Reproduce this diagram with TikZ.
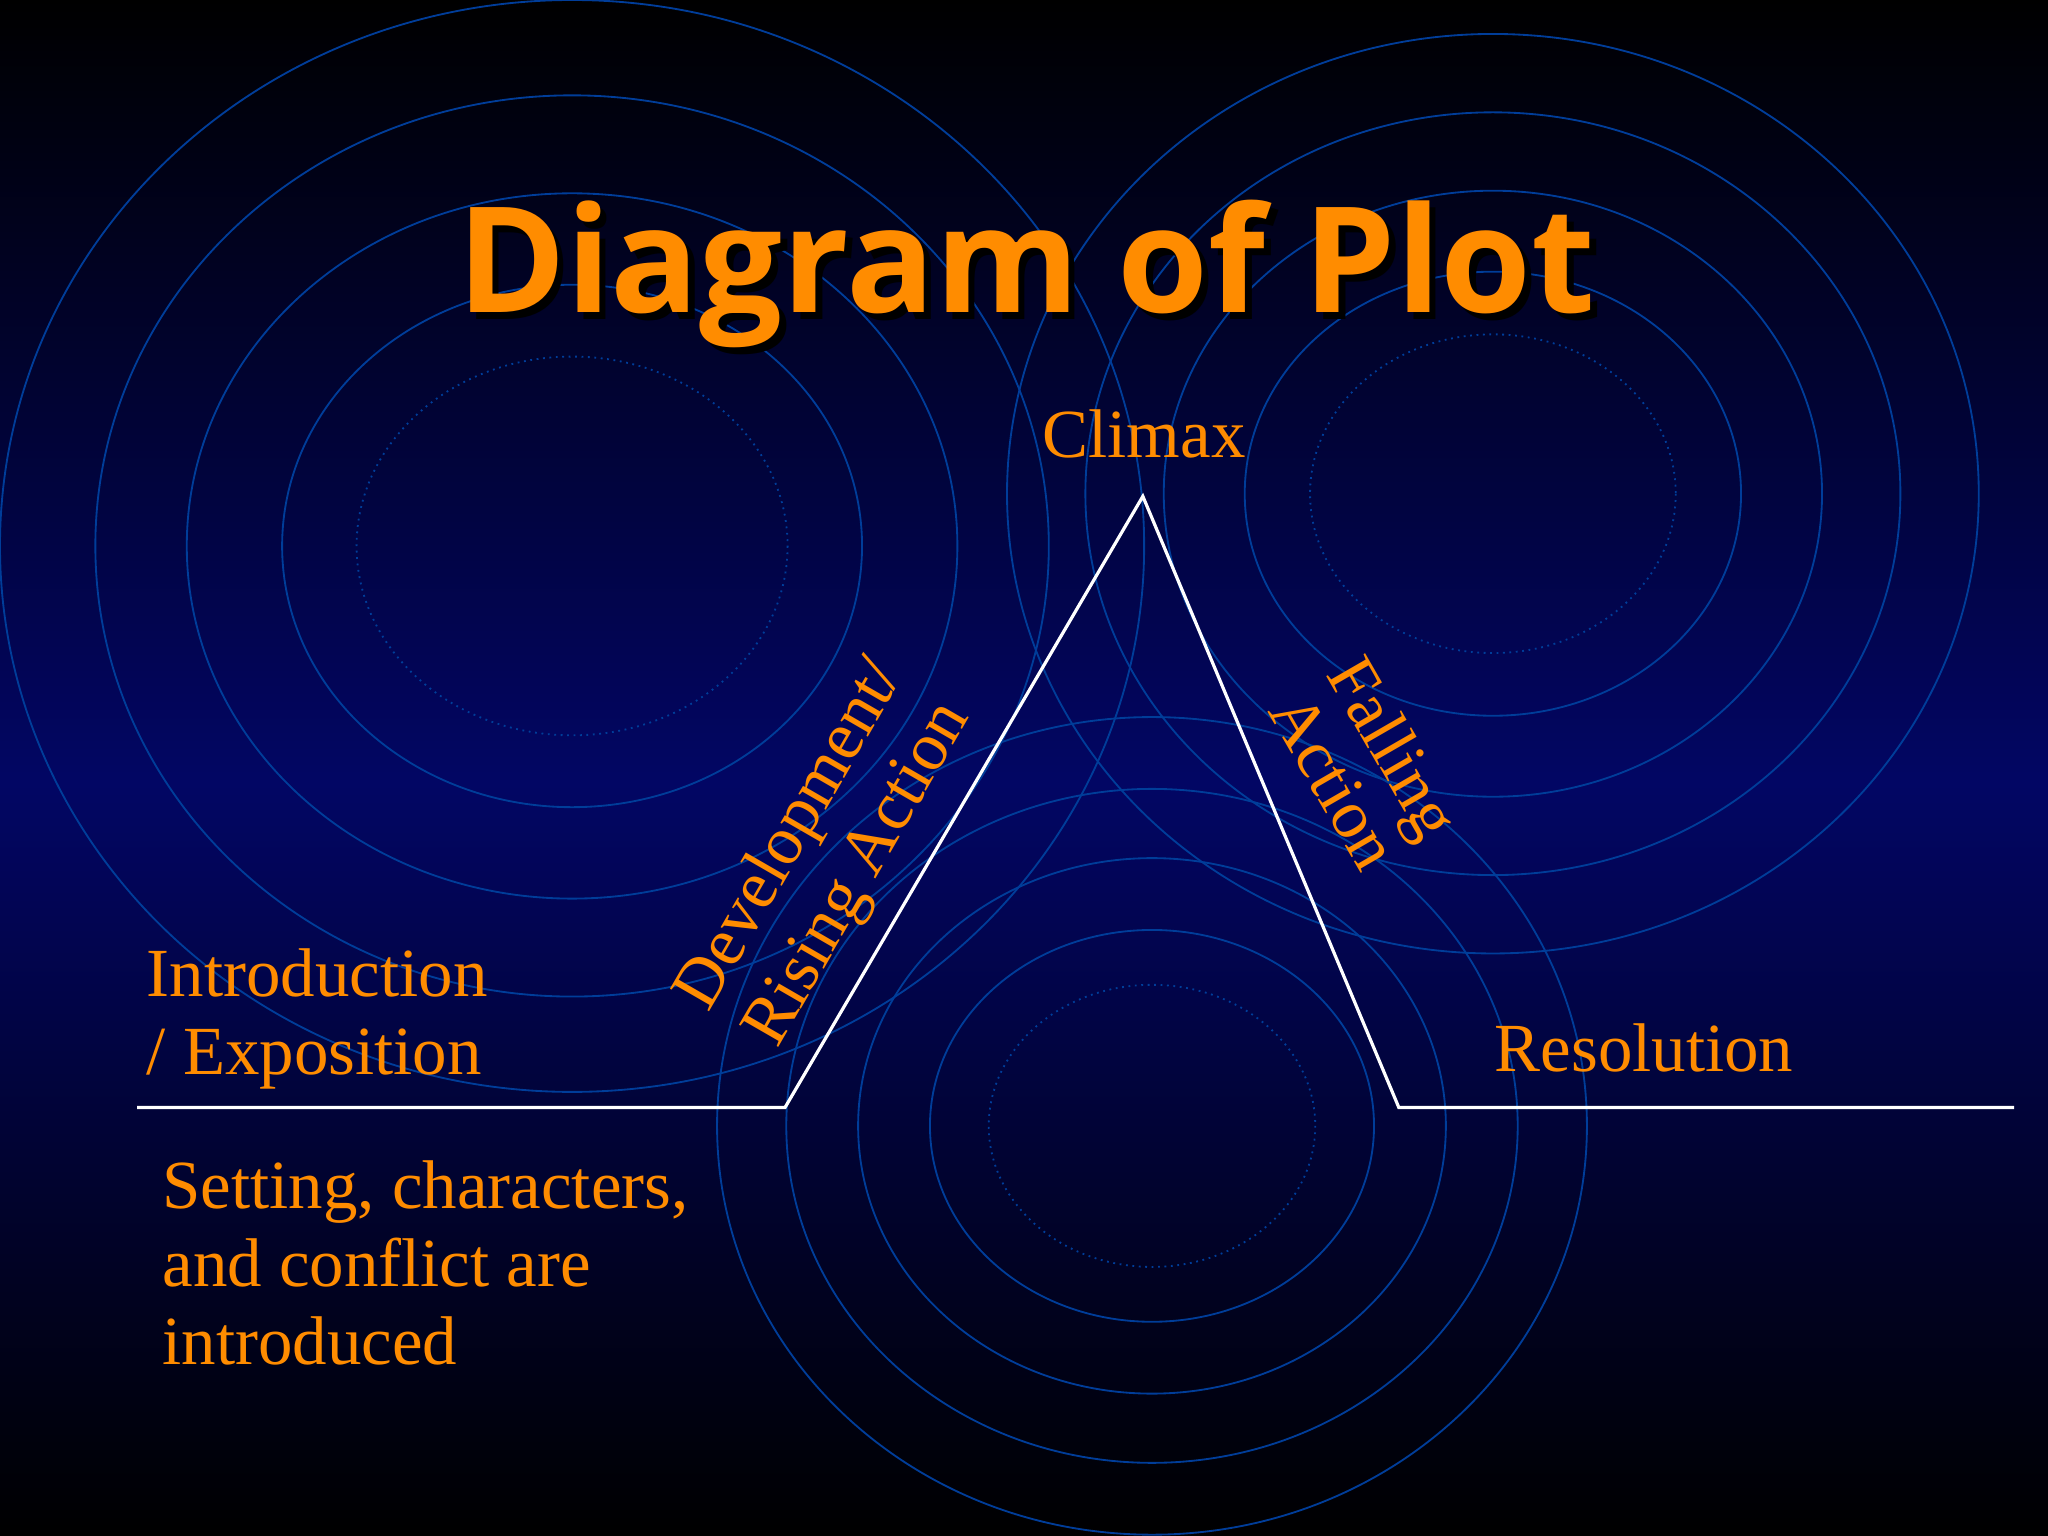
\documentclass[tikz,border=0pt]{standalone}
\usepackage{fontspec}
\setmainfont{Liberation Serif}
\newfontfamily\titlefont{Open Sans}
\begin{document}
\begin{tikzpicture}[x=0.01cm,y=-0.01cm,
  ring/.style={draw=blue!60!cyan!60!black,line width=0.4pt},
  dring/.style={ring,densely dotted},
  lbl/.style={text=orange!90!yellow,font=\fontsize{15}{17}\selectfont},
  plotline/.style={draw=white,line width=0.7pt}]
\definecolor{dkblue}{RGB}{2,6,100}
\useasboundingbox (0,0) rectangle (1568,1176);
\fill[top color=black,bottom color=dkblue] (0,0) rectangle (1568,600);
\fill[top color=dkblue,bottom color=black] (0,600) rectangle (1568,1176);
\begin{scope}
\clip (0,0) rectangle (1568,1176);
\draw[dring] (438,418) ellipse [x radius=165, y radius=145];
\foreach \rx/\ry in {222/200,295/270,365/345,438/418} \draw[ring] (438,418) ellipse [x radius=\rx, y radius=\ry];
\draw[dring] (1143,378) ellipse [x radius=140, y radius=122];
\foreach \rx/\ry in {190/170,252/232,312/292,372/352} \draw[ring] (1143,378) ellipse [x radius=\rx, y radius=\ry];
\draw[dring] (882,862) ellipse [x radius=125, y radius=108];
\foreach \rx/\ry in {170/150,225/205,280/258,333/313} \draw[ring] (882,862) ellipse [x radius=\rx, y radius=\ry];
\end{scope}
\coordinate (s) at (105,848); \coordinate (r) at (601,848); \coordinate (c) at (875,380);
\coordinate (f) at (1071,848); \coordinate (e) at (1542,848);
\draw[plotline] (s) -- (r) -- (c) -- (f) -- (e);
\node[text=black,font=\titlefont\bfseries\fontsize{32}{36}\selectfont] at (791,215) {Diagram of Plot};
\node[text=orange!90!yellow,font=\titlefont\bfseries\fontsize{32}{36}\selectfont] (title) at (786,210) {Diagram of Plot};
\node[lbl] (climax) at (876,332) {Climax};
\node[lbl,align=center,rotate=60] (rise) at (632,655) {Development/\\Rising Action};
\node[lbl,align=center,rotate=-60,font=\fontsize{15}{15}\selectfont] (fall) at (1045,585) {Falling\\Action};
\node[lbl,align=left,anchor=west] (intro) at (100,780) {Introduction\\/ Exposition};
\node[lbl,anchor=west] (res) at (1132,802) {Resolution};
\node[lbl,align=left,anchor=north west] (desc) at (112,876) {Setting, characters,\\and conflict are\\introduced};
\end{tikzpicture}
\end{document}
